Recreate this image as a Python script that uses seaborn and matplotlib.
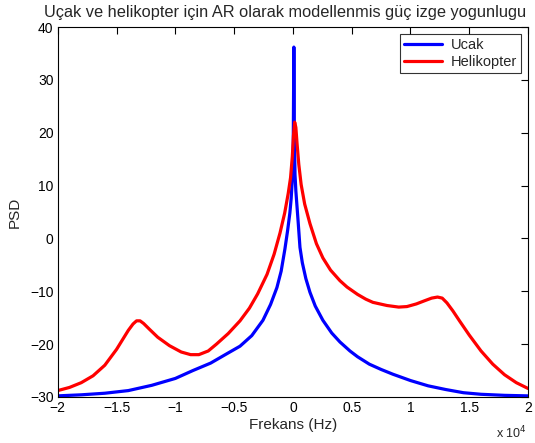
import matplotlib
matplotlib.use("Agg")
import matplotlib.pyplot as plt
import pandas as pd
import seaborn as sns

# frekans (x 10^4 Hz) ve PSD degerleri
ucak_f = [-2.0, -1.8, -1.6, -1.4, -1.2, -1.0, -0.85, -0.7, -0.56, -0.45, -0.35,
          -0.255, -0.19, -0.136, -0.1, -0.068, -0.045, -0.026, -0.015, -0.007,
          -0.002, 0.003, 0.008, 0.013, 0.018, 0.025, 0.035, 0.045, 0.06, 0.08,
          0.11, 0.145, 0.19, 0.255, 0.33, 0.4, 0.485, 0.55, 0.65, 0.75, 0.85,
          1.0, 1.15, 1.3, 1.45, 1.6, 1.8, 2.0]
ucak_psd = [-29.8, -29.6, -29.3, -28.8, -27.8, -26.5, -25.0, -23.6, -21.8, -20.4, -18.4,
            -15.5, -12.5, -9.3, -6.2, -2.0, 1.5, 4.8, 7.5, 10.5,
            14.0, 18.0, 36.2, 18.0, 12.0, 9.0, 6.0, 3.0, -1.7, -4.6,
            -7.6, -10.2, -12.8, -15.5, -17.9, -19.6, -21.3, -22.4, -23.8, -24.8, -25.7,
            -26.9, -27.9, -28.6, -29.2, -29.5, -29.7, -29.8]

heli_f = [-2.0, -1.9, -1.8, -1.7, -1.6, -1.5, -1.45, -1.4, -1.36, -1.33, -1.3,
          -1.27, -1.22, -1.15, -1.05, -0.95, -0.87, -0.8, -0.72, -0.65, -0.55,
          -0.45, -0.37, -0.3, -0.22, -0.16, -0.11, -0.07, -0.04, -0.02, -0.005,
          0.005, 0.015, 0.025, 0.035, 0.05, 0.07, 0.1, 0.145, 0.2, 0.255, 0.32,
          0.4, 0.46, 0.55, 0.62, 0.68, 0.8, 0.9, 0.97, 1.05, 1.12, 1.18, 1.23,
          1.27, 1.31, 1.36, 1.42, 1.5, 1.6, 1.7, 1.8, 1.9, 2.0]
heli_psd = [-28.8, -28.2, -27.3, -26.0, -24.0, -21.0, -19.2, -17.4, -16.2, -15.6, -15.6,
            -16.1, -17.2, -18.7, -20.3, -21.5, -22.0, -22.0, -21.3, -20.0, -18.0,
            -15.6, -13.2, -10.5, -6.8, -3.0, 1.0, 4.8, 8.5, 11.5, 15.5,
            19.5, 22.0, 21.0, 18.0, 14.0, 10.2, 6.5, 2.8, -1.0, -3.7, -6.0,
            -8.0, -9.2, -10.6, -11.5, -12.1, -12.7, -13.0, -12.9, -12.4, -11.8, -11.3, -11.1,
            -11.3, -12.2, -13.7, -15.7, -18.3, -21.3, -23.8, -25.8, -27.3, -28.4]

df = pd.concat([
    pd.DataFrame({"f": ucak_f, "psd": ucak_psd, "sinyal": "Ucak"}),
    pd.DataFrame({"f": heli_f, "psd": heli_psd, "sinyal": "Helikopter"}),
], ignore_index=True)

sns.set_style("white")
plt.rcParams["font.family"] = ["Liberation Sans", "DejaVu Sans"]

fig = plt.figure(figsize=(5.35, 4.43), dpi=100)
ax = fig.add_axes([0.108, 0.104, 0.879, 0.835])

sns.lineplot(data=df, x="f", y="psd", hue="sinyal", sort=False, estimator=None,
             palette={"Ucak": "#0000ff", "Helikopter": "#ff0000"},
             linewidth=2.3, ax=ax)
for ln in ax.lines:
    ln.set_solid_joinstyle("round")

ax.set_xlim(-2, 2)
ax.set_ylim(-30, 40)
ax.set_xticks([-2, -1.5, -1, -0.5, 0, 0.5, 1, 1.5, 2])
ax.set_xticklabels(["\u22122", "\u22121.5", "\u22121", "\u22120.5", "0", "0.5", "1", "1.5", "2"])
ax.set_yticks(range(-30, 41, 10))
ax.set_yticklabels([str(v).replace("-", "\u2212") for v in range(-30, 41, 10)])
ax.tick_params(direction="in", length=5, width=0.8, top=True, right=True,
               labelsize=10, pad=3, colors="black")
for s in ax.spines.values():
    s.set_color("black")
    s.set_linewidth(0.8)

# baslik biraz sola kaydirildi ki kenara tasmasin
fig.text(0.532, 0.972, "Uçak ve helikopter için AR olarak modellenmis güç izge yogunlugu",
         fontsize=11.8, ha="center", va="center")
ax.set_xlabel("Frekans (Hz)", fontsize=11, labelpad=2)
ax.set_ylabel("PSD", fontsize=11, labelpad=6)
fig.text(0.928, 0.01, r"x 10$^4$", fontsize=9)

leg = ax.legend(loc="upper right", fontsize=10.5, frameon=True, fancybox=False,
                handlelength=2.6, borderaxespad=0.45, borderpad=0.3,
                labelspacing=0.2, handletextpad=0.6)
leg.get_frame().set_edgecolor("black")
leg.get_frame().set_linewidth(0.8)
leg.set_title(None)

fig.savefig("out.png", dpi=100)
